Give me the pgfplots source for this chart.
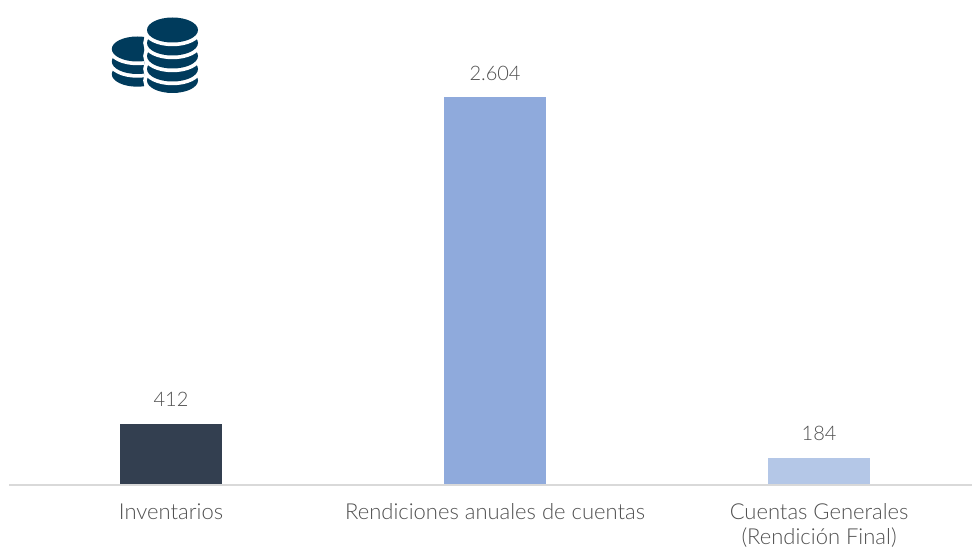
\documentclass[border=0pt]{standalone}
\usepackage{fontspec}
\setmainfont{Lato Light}
\usepackage{pgfplots}
\pgfplotsset{compat=1.18}
\definecolor{barA}{HTML}{333F50}
\definecolor{barB}{HTML}{8FAADC}
\definecolor{barC}{HTML}{B4C7E7}
\definecolor{axisgrey}{HTML}{D9D9D9}
\definecolor{txt}{HTML}{505050}
\definecolor{icon}{HTML}{003B5C}
\newcommand{\coin}[2]{%
  \draw[white,line width=5.6pt] (#1,#2) ellipse [x radius=25.5,y radius=12.5];
  \fill[icon] (#1,#2) ellipse [x radius=25.5,y radius=12.5];}
\begin{document}
\begin{tikzpicture}[x=0.75pt,y=0.75pt]
% page size
\path[use as bounding box] (0,0) rectangle (973,547);
\begin{axis}[
    at={(6.75pt,46.5pt)},
    anchor=south west,
    scale only axis,
    width=722.25pt,
    height=291pt,
    ybar,
    bar width=76.5pt,
    bar shift=0pt,
    xmin=-0.5, xmax=2.472,
    ymin=0, ymax=2604,
    clip=false,
    axis on top,
    axis x line*=bottom,
    axis y line=none,
    axis line style={axisgrey,line width=1.5pt,-},
    xtick={0,1,2},
    xticklabels={Inventarios,Rendiciones anuales de cuentas,{Cuentas Generales\\(Rendición Final)}},
    xticklabel style={align=center,text=txt,font=\fontsize{16.5}{19}\selectfont,yshift=-6pt},
    tick style={draw=none},
    nodes near coords,
    every node near coord/.append style={text=txt,font=\fontsize{15}{19}\selectfont,yshift=9pt},
    /pgf/number format/.cd,1000 sep={.},assume math mode=true,
  ]
\addplot[draw=none,fill=barA] coordinates {(0,412)};
\addplot[draw=none,fill=barB] coordinates {(1,2604)};
\addplot[draw=none,fill=barC] coordinates {(2,184)};
\end{axis}
% coin icon, small stack then big stack (pixel coordinates, y down)
\begin{scope}[y=-0.75pt,yshift=410.25pt]
\begin{scope}
\clip (100,0) rectangle (144,100);
\coin{137.3}{74.2}
\coin{137.3}{61.5}
\coin{137.3}{49}
\end{scope}
\coin{172.5}{80.5}
\coin{172.5}{69}
\coin{172.5}{56}
\coin{172.5}{43}
\coin{172.5}{30}
\end{scope}
\end{tikzpicture}
\end{document}
